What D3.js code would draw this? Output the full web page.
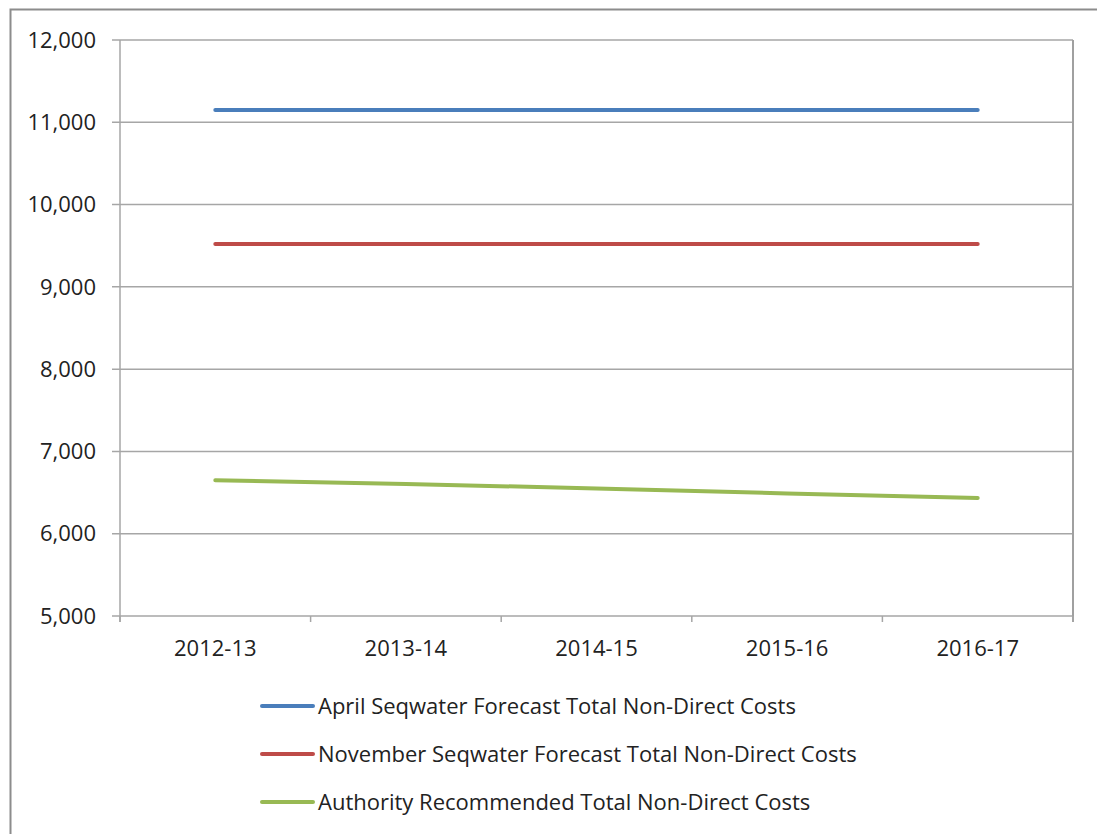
<!DOCTYPE html>
<html>
<head>
<meta charset="utf-8">
<script src="https://cdn.jsdelivr.net/npm/d3@7"></script>
<style>
  body { margin: 0; background: #fff; }
  text { font-family: "Open Sans", sans-serif; fill: #222; }
</style>
</head>
<body>
<div id="chart"></div>
<script>
var years = ["2012-13", "2013-14", "2014-15", "2015-16", "2016-17"];
var aprilCosts = [11150, 11150, 11150, 11150, 11150];
var novemberCosts = [9520, 9520, 9520, 9520, 9520];
var authorityCosts = [6650, 6605, 6550, 6490, 6435];
var yTicks = [5000, 6000, 7000, 8000, 9000, 10000, 11000, 12000];
var seriesNames = [
  "April Seqwater Forecast Total Non-Direct Costs",
  "November Seqwater Forecast Total Non-Direct Costs",
  "Authority Recommended Total Non-Direct Costs"
];

var series = [
  { name: seriesNames[0], values: aprilCosts, color: "#4a7ebb" },
  { name: seriesNames[1], values: novemberCosts, color: "#be4b48" },
  { name: seriesNames[2], values: authorityCosts, color: "#98b954" }
];

var width = 1097;
var height = 834;

var svg = d3.select("#chart")
  .append("svg")
  .attr("width", width)
  .attr("height", height);

// outer chart frame, cut off at right and bottom like the picture
svg.append("rect")
  .attr("x", 10.5)
  .attr("y", 9.5)
  .attr("width", 1200)
  .attr("height", 1000)
  .attr("fill", "none")
  .attr("stroke", "#8c8c8c")
  .attr("stroke-width", 2);

var plotLeft = 120, plotRight = 1073, plotTop = 40, plotBottom = 616;

var x = d3.scaleBand().domain(years).range([plotLeft, plotRight]);
var y = d3.scaleLinear().domain([5000, 12000]).range([plotBottom, plotTop]);

// gridlines
svg.append("g")
  .selectAll("line")
  .data(yTicks)
  .enter()
  .append("line")
  .attr("x1", plotLeft - 8)
  .attr("x2", plotRight)
  .attr("y1", function(d) { return y(d); })
  .attr("y2", function(d) { return y(d); })
  .attr("stroke", "#a6a6a6")
  .attr("stroke-width", 1.5);

// plot border (left axis + right side)
svg.append("line")
  .attr("x1", plotLeft).attr("x2", plotLeft)
  .attr("y1", plotTop).attr("y2", plotBottom + 6)
  .attr("stroke", "#a6a6a6").attr("stroke-width", 1.5);
svg.append("line")
  .attr("x1", plotRight).attr("x2", plotRight)
  .attr("y1", plotTop).attr("y2", plotBottom + 6)
  .attr("stroke", "#a0a0a0").attr("stroke-width", 2);

// x ticks at category boundaries
var bounds = years.map(function(d) { return x(d); }).concat([plotRight]);
svg.append("g")
  .selectAll("line")
  .data(bounds)
  .enter()
  .append("line")
  .attr("x1", function(d) { return d; })
  .attr("x2", function(d) { return d; })
  .attr("y1", plotBottom)
  .attr("y2", plotBottom + 6)
  .attr("stroke", "#a6a6a6")
  .attr("stroke-width", 1.5);

// y labels
var fmt = d3.format(",");
svg.append("g")
  .selectAll("text")
  .data(yTicks)
  .enter()
  .append("text")
  .attr("x", 96)
  .attr("y", function(d) { return y(d); })
  .attr("dy", "0.35em")
  .attr("text-anchor", "end")
  .style("font-size", "22px")
  .text(function(d) { return fmt(d); });

// x labels
svg.append("g")
  .selectAll("text")
  .data(years)
  .enter()
  .append("text")
  .attr("x", function(d) { return x(d) + x.bandwidth() / 2; })
  .attr("y", 648)
  .attr("dy", "0.35em")
  .attr("text-anchor", "middle")
  .style("font-size", "22px")
  .text(function(d) { return d; });

// lines
var line = d3.line()
  .x(function(d, i) { return x(years[i]) + x.bandwidth() / 2; })
  .y(function(d) { return y(d); });

svg.append("g")
  .selectAll("path")
  .data(series)
  .enter()
  .append("path")
  .attr("d", function(d) { return line(d.values); })
  .attr("fill", "none")
  .attr("stroke", function(d) { return d.color; })
  .attr("stroke-width", 4)
  .attr("stroke-linecap", "round");

// legend
var legend = svg.selectAll(".legend")
  .data(series)
  .enter()
  .append("g")
  .attr("class", "legend")
  .attr("transform", function(d, i) {
    return "translate(262," + (706 + i * 48) + ")";
  });

legend.append("line")
  .attr("x1", 0).attr("x2", 51)
  .attr("y1", 0).attr("y2", 0)
  .attr("stroke", function(d) { return d.color; })
  .attr("stroke-width", 4)
  .attr("stroke-linecap", "round");

legend.append("text")
  .attr("x", 56)
  .attr("y", 0)
  .attr("dy", "0.35em")
  .style("font-size", "22px")
  .text(function(d) { return d.name; });
</script>
</body>
</html>
